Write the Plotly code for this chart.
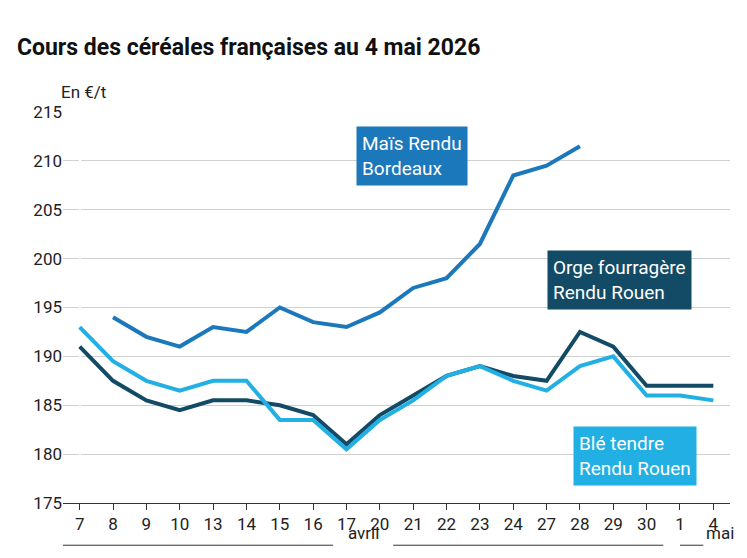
import plotly.graph_objects as go

jours = ["7", "8", "9", "10", "13", "14", "15", "16", "17", "20",
         "21", "22", "23", "24", "27", "28", "29", "30", "1", "4"]
mais = [None, 194, 192, 191, 193, 192.5, 195, 193.5, 193, 194.5,
        197, 198, 201.5, 208.5, 209.5, 211.5, None, None, None, None]
orge = [191, 187.5, 185.5, 184.5, 185.5, 185.5, 185, 184, 181, 184,
        186, 188, 189, 188, 187.5, 192.5, 191, 187, 187, 187]
ble = [193, 189.5, 187.5, 186.5, 187.5, 187.5, 183.5, 183.5, 180.5, 183.5,
       185.5, 188, 189, 187.5, 186.5, 189, 190, 186, 186, 185.5]

C_MAIS = "#1b78bb"
C_ORGE = "#134b66"
C_BLE = "#22b0e4"

x = list(range(len(jours)))
fig = go.Figure()
for vals, col in [(orge, C_ORGE), (ble, C_BLE), (mais, C_MAIS)]:
    fig.add_trace(go.Scatter(x=x, y=vals, mode="lines",
                             line=dict(color=col, width=4), connectgaps=False))

# étiquettes des séries
labels = [
    (8.3, 210.5, "Maïs Rendu<br>Bordeaux", C_MAIS),
    (14.0, 197.8, "Orge fourragère<br>Rendu Rouen", C_ORGE),
    (14.8, 179.8, "Blé tendre<br>Rendu Rouen", C_BLE),
]
for lx, ly, txt, col in labels:
    fig.add_annotation(x=lx, y=ly, text=txt, showarrow=False, xanchor="left",
                       align="left", bgcolor=col, borderpad=5,
                       font=dict(color="white", size=19, family="Roboto"))

# repères de mois sous l'axe
for x0, x1 in [(-0.5, 7.6), (9.4, 17.5), (18.0, 18.7)]:
    fig.add_shape(type="line", xref="x", yref="paper", x0=x0, x1=x1, y0=-0.108, y1=-0.108,
                  line=dict(color="#333", width=1))
fig.add_annotation(x=8.5, y=-0.108, xref="x", yref="paper", text="avril", showarrow=False,
                   font=dict(size=17, color="#222"))
fig.add_annotation(x=19.2, y=-0.108, xref="x", yref="paper", text="mai", showarrow=False,
                   font=dict(size=17, color="#222"))

fig.update_layout(
    width=747, height=558, showlegend=False,
    plot_bgcolor="white", paper_bgcolor="white",
    font=dict(family="Roboto", size=17, color="#222"),
    margin=dict(l=55, r=25, t=104, b=63),
    title=dict(text="<b>Cours des céréales françaises au 4 mai 2026</b>", x=0.012, y=0.945,
               font=dict(size=23, color="#111")),
    xaxis=dict(tickmode="array", tickvals=x, ticktext=jours, range=[-0.5, 19.5],
               showgrid=False, ticks="outside", ticklen=6, tickcolor="#333",
               showline=True, linecolor="#333"),
    yaxis=dict(range=[175, 215], dtick=5, gridcolor="#d0d0d0", zeroline=False),
)
fig.add_annotation(x=0, y=1.02, xref="paper", yref="paper", xanchor="left", yanchor="bottom",
                   text="En €/t", showarrow=False, font=dict(size=17, color="#222"), xshift=-4)

fig.write_html("out.html")
